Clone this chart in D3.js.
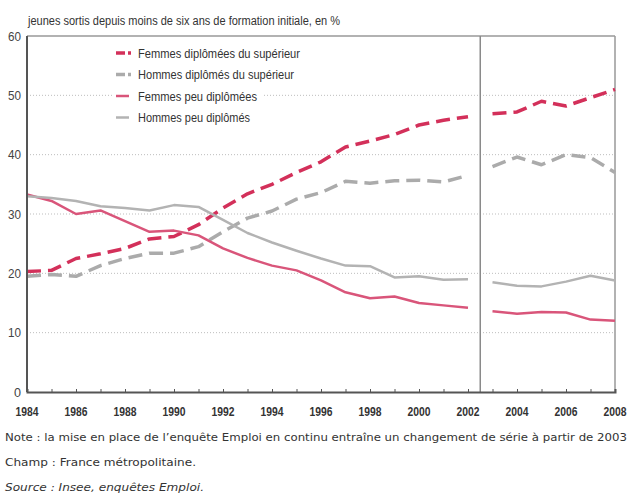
<!DOCTYPE html>
<html>
<head>
<meta charset="utf-8">
<script src="https://cdn.jsdelivr.net/npm/d3@7"></script>
<style>
  body { margin: 0; background: #fff; }
  svg text { font-family: "Liberation Sans", Arial, sans-serif; }
  .foot { font-family: "DejaVu Sans", Verdana, sans-serif !important; font-size: 10.5px; fill: #333; }
</style>
</head>
<body>
<svg id="chart"></svg>
<script>
// years of each part of the series (break in 2003)
const years1 = [1984, 1985, 1986, 1987, 1988, 1989, 1990, 1991, 1992, 1993, 1994, 1995, 1996, 1997, 1998, 1999, 2000, 2001, 2002];
const years2 = [2003, 2004, 2005, 2006, 2007, 2008];

const femmesSup1 = [20.3, 20.5, 22.5, 23.3, 24.2, 25.8, 26.2, 28.2, 31, 33.4, 35, 37, 38.8, 41.3, 42.3, 43.4, 45, 45.8, 46.4];
const femmesSup2 = [46.9, 47.2, 49, 48.2, 49.6, 51];
const hommesSup1 = [19.5, 19.8, 19.5, 21.3, 22.5, 23.4, 23.4, 24.5, 27, 29.3, 30.5, 32.5, 33.6, 35.5, 35.2, 35.6, 35.7, 35.4, 36.5];
const hommesSup2 = [38, 39.6, 38.3, 40, 39.5, 37];
const femmesPeu1 = [33.3, 32.2, 30, 30.6, 28.8, 27, 27.2, 26.4, 24.2, 22.6, 21.3, 20.5, 18.8, 16.8, 15.8, 16.1, 15, 14.6, 14.2];
const femmesPeu2 = [13.6, 13.2, 13.5, 13.4, 12.2, 12];
const hommesPeu1 = [33, 32.7, 32.2, 31.3, 31, 30.6, 31.5, 31.2, 29, 26.8, 25.2, 23.8, 22.5, 21.3, 21.2, 19.3, 19.5, 18.9, 19];
const hommesPeu2 = [18.5, 17.9, 17.8, 18.6, 19.6, 18.8];

const yTicks = [0, 10, 20, 30, 40, 50, 60];
const yearLabels = [1984, 1986, 1988, 1990, 1992, 1994, 1996, 1998, 2000, 2002, 2004, 2006, 2008];
const breakYear = 2002.5;

const title = "jeunes sortis depuis moins de six ans de formation initiale, en %";
const notes = [
  "Note : la mise en place de l\u2019enquête Emploi en continu entraîne un changement de série à partir de 2003",
  "Champ : France métropolitaine.",
  "Source : Insee, enquêtes Emploi."
];

const series = [
  { name: "Femmes diplômées du supérieur", a: femmesSup1, b: femmesSup2, color: "#d3305a", dashed: true, w: 162 },
  { name: "Hommes diplômés du supérieur", a: hommesSup1, b: hommesSup2, color: "#ababab", dashed: true, w: 156 },
  { name: "Femmes peu diplômées", a: femmesPeu1, b: femmesPeu2, color: "#d9557a", dashed: false, w: 119 },
  { name: "Hommes peu diplômés", a: hommesPeu1, b: hommesPeu2, color: "#b3b3b3", dashed: false, w: 112 }
];

const W = 631, H = 493;
const svg = d3.select("#chart").attr("width", W).attr("height", H);

const x = d3.scaleLinear().domain([1984, 2008]).range([27, 615]);
const y = d3.scaleLinear().domain([0, 60]).range([392, 36]);

// grid
svg.append("g").selectAll("line")
  .data(yTicks.filter(d => d > 0 && d < 60))
  .join("line")
  .attr("x1", x(1984)).attr("x2", x(2008))
  .attr("y1", d => y(d)).attr("y2", d => y(d))
  .attr("stroke", "#bdbdbd").attr("stroke-width", 1)
  .attr("stroke-dasharray", "1,2");

// frame
svg.append("line").attr("x1", x(1984)).attr("x2", x(2008)).attr("y1", y(60)).attr("y2", y(60))
  .attr("stroke", "#999").attr("stroke-width", 1.5);
svg.append("line").attr("x1", x(2008)).attr("x2", x(2008)).attr("y1", y(60)).attr("y2", y(0))
  .attr("stroke", "#999").attr("stroke-width", 1.5);
svg.append("line").attr("x1", x(breakYear)).attr("x2", x(breakYear)).attr("y1", y(60)).attr("y2", y(0))
  .attr("stroke", "#8a8a8a").attr("stroke-width", 1.5);

// y labels
svg.append("g").selectAll("text")
  .data(yTicks)
  .join("text")
  .attr("x", 21).attr("y", d => y(d) + 4.5)
  .attr("text-anchor", "end")
  .attr("font-size", 13).attr("fill", "#444")
  .attr("textLength", d => d === 0 ? 7 : 13).attr("lengthAdjust", "spacingAndGlyphs")
  .text(d => d);

// lines
const line = d3.line().x(d => x(d[0])).y(d => y(d[1]));
const plot = svg.append("g");
series.forEach(s => {
  [[years1, s.a], [years2, s.b]].forEach(([yrs, vals]) => {
    plot.append("path")
      .datum(yrs.map((yr, i) => [yr, vals[i]]))
      .attr("d", line)
      .attr("fill", "none")
      .attr("stroke", s.color)
      .attr("stroke-width", s.dashed ? 3.5 : 2.5)
      .attr("stroke-linejoin", "round")
      .attr("stroke-dasharray", s.dashed ? "14,7" : null);
  });
});

// axes
svg.append("line").attr("x1", x(1984)).attr("x2", x(1984)).attr("y1", y(60)).attr("y2", y(0))
  .attr("stroke", "#555").attr("stroke-width", 2);
const xAxis = svg.append("g").attr("transform", `translate(0,${y(0)})`)
  .call(d3.axisBottom(x).tickValues(d3.range(1984, 2009)).tickSize(-3).tickFormat(""));
xAxis.select(".domain").attr("stroke", "#555").attr("stroke-width", 2);
xAxis.selectAll(".tick line").attr("stroke", "#555");

svg.append("g").selectAll("text")
  .data(yearLabels)
  .join("text")
  .attr("x", d => x(d)).attr("y", 416)
  .attr("text-anchor", "middle")
  .attr("font-size", 13).attr("font-weight", "bold").attr("fill", "#333")
  .attr("textLength", 23).attr("lengthAdjust", "spacingAndGlyphs")
  .text(d => d);

// legend
const lg = svg.append("g");
lg.append("rect").attr("x", 112).attr("y", 42).attr("width", 152).attr("height", 82).attr("fill", "#fff");
series.forEach((s, i) => {
  const ly = 53 + i * 21.5;
  lg.append("line")
    .attr("x1", 116).attr("x2", s.dashed ? 132 : 129).attr("y1", ly).attr("y2", ly)
    .attr("stroke", s.color).attr("stroke-width", s.dashed ? 3.5 : 2.5)
    .attr("stroke-dasharray", s.dashed ? "9,3,3,20" : null);
  lg.append("text")
    .attr("x", 138).attr("y", ly + 4.5)
    .attr("font-size", 13.5).attr("fill", "#333")
    .attr("textLength", s.w).attr("lengthAdjust", "spacingAndGlyphs")
    .text(s.name);
});

// title
svg.append("text")
  .attr("x", 28).attr("y", 25)
  .attr("font-size", 12.5).attr("fill", "#333")
  .attr("textLength", 312).attr("lengthAdjust", "spacingAndGlyphs")
  .text(title);

// footnotes
svg.append("text").attr("class", "foot").attr("x", 5).attr("y", 441)
  .attr("textLength", 622).attr("lengthAdjust", "spacingAndGlyphs").text(notes[0]);
svg.append("text").attr("class", "foot").attr("x", 5).attr("y", 466)
  .attr("textLength", 191).attr("lengthAdjust", "spacingAndGlyphs").text(notes[1]);
svg.append("text").attr("class", "foot").attr("x", 5).attr("y", 491)
  .attr("font-style", "italic")
  .attr("textLength", 199).attr("lengthAdjust", "spacingAndGlyphs").text(notes[2]);
</script>
</body>
</html>
